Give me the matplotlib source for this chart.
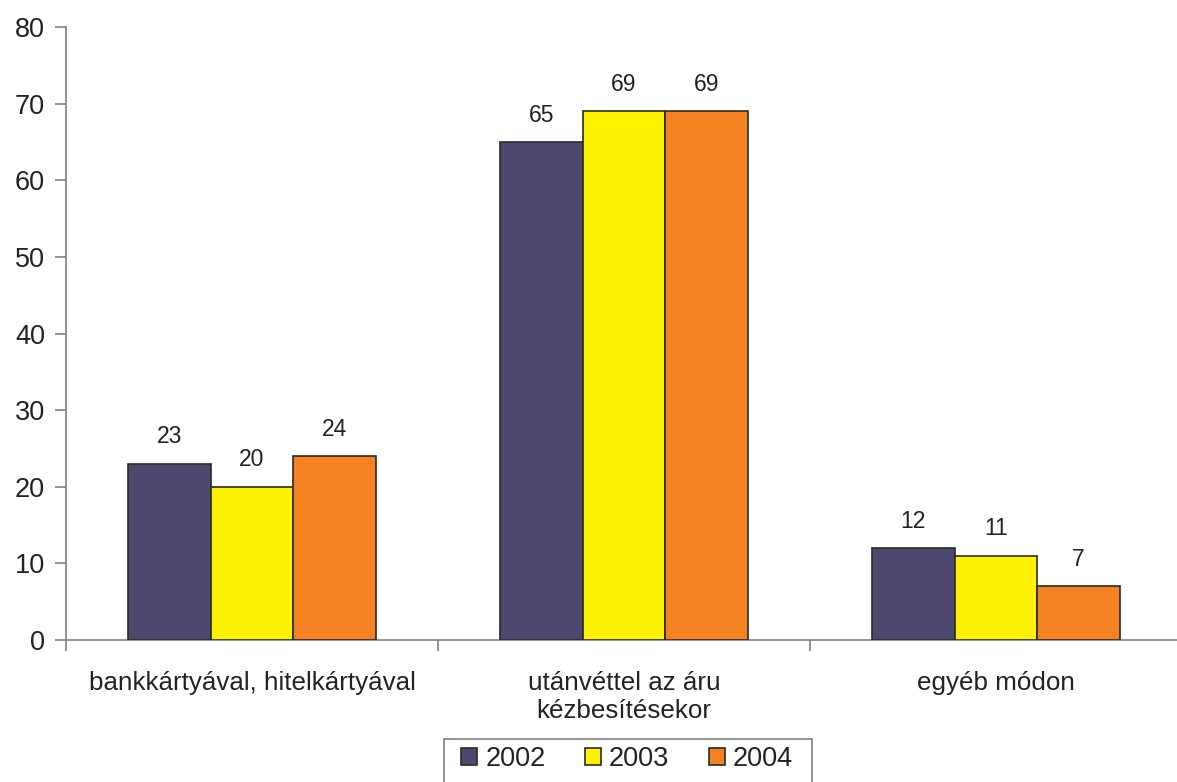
import matplotlib
matplotlib.use("Agg")
import matplotlib.pyplot as plt
from matplotlib.patches import Rectangle
import numpy as np

categories = ["bankkártyával, hitelkártyával", "utánvéttel az áru\nkézbesítésekor", "egyéb módon"]
years = ["2002", "2003", "2004"]
v2002 = [23, 65, 12]
v2003 = [20, 69, 11]
v2004 = [24, 69, 7]
colors = ["#4E4A6F", "#FFF200", "#F58220"]
yticks = [0, 10, 20, 30, 40, 50, 60, 70, 80]

plt.rcParams['font.family'] = ['Liberation Sans', 'DejaVu Sans']

W, H = 1177, 782
fig = plt.figure(figsize=(W / 100, H / 100), dpi=100)
left, right, top, bottom = 66, 1182, 27, 640
ax = fig.add_axes([left / W, (H - bottom) / H, (right - left) / W, (bottom - top) / H])

x = np.arange(len(categories))
bw = 0.222
series = [v2002, v2003, v2004]
for i, (vals, c, lab) in enumerate(zip(series, colors, years)):
    bars = ax.bar(x + (i - 1) * bw, vals, bw, color=c, edgecolor="#2a2a2a", linewidth=1.2, label=lab, zorder=3)
    for b, v in zip(bars, vals):
        ax.annotate(str(v), (b.get_x() + b.get_width() / 2, v), xytext=(0, 11),
                    textcoords="offset points", ha="center", va="bottom", fontsize=16.5, color="#222222")

ax.set_xlim(-0.5, len(categories) - 0.5)
ax.set_ylim(0, 80)
ax.set_yticks(yticks)
ax.set_yticklabels([str(t) for t in yticks], fontsize=19.5, color="#222222")
ax.set_xticks(np.arange(len(categories) + 1) - 0.5)
ax.set_xticklabels([])
ax.set_xticks(x, minor=True)
ax.set_xticklabels(categories, minor=True, fontsize=18.7, color="#222222", linespacing=1.22)
ax.tick_params(axis="x", which="minor", length=0, pad=22)
ax.tick_params(axis="x", which="major", length=8, width=1.2, color="#808080", direction="out")
ax.tick_params(axis="y", length=8, width=1.2, color="#808080", direction="out", pad=7)

for s in ["top", "right"]:
    ax.spines[s].set_visible(False)
for s in ["left", "bottom"]:
    ax.spines[s].set_color("#808080")
    ax.spines[s].set_linewidth(1.2)

leg_top_px = 739
leg = ax.legend(loc="upper center",
                bbox_to_anchor=((627 - left) / (right - left), -(leg_top_px - bottom) / (bottom - top)),
                ncol=3, frameon=False, fontsize=19.5, handlelength=0.6, handleheight=0.6,
                handletextpad=0.3, columnspacing=1.45, borderpad=0.25, borderaxespad=0)
for t in leg.get_texts():
    t.set_color("#222222")

fig.canvas.draw()
bb = leg.get_window_extent()
x0 = (bb.x0 - 10) / W
x1 = (bb.x1 + 12) / W
y_top = (H - leg_top_px) / H
fig.patches.append(Rectangle((x0, -0.05), x1 - x0, y_top + 0.05, transform=fig.transFigure,
                             fill=False, edgecolor="#808080", linewidth=1.2, figure=fig))

fig.savefig("out.png", dpi=100)
